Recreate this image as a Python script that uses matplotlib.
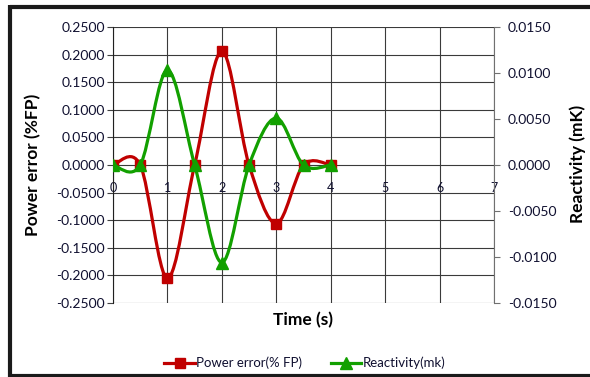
import matplotlib
matplotlib.use("Agg")
import matplotlib.pyplot as plt
from matplotlib.path import Path
from matplotlib.patches import PathPatch
from matplotlib.lines import Line2D
from matplotlib.ticker import FormatStrFormatter, MultipleLocator

plt.rcParams['font.family'] = ['Lato', 'DejaVu Sans']

# Data
time_s = [0, 0.5, 1, 1.5, 2, 2.5, 3, 3.5, 4]
power_error = [0, 0, -0.205, 0, 0.206, 0, -0.106, 0, 0]   # % FP
reactivity = [0, 0, 0.0103, 0, -0.0106, 0, 0.0051, 0, 0]  # mk
x_ticks = [0, 1, 2, 3, 4, 5, 6, 7]

RED = '#C00000'
GREEN = '#12A000'


def smooth_path(xs, ys):
    """Cubic Bezier path through the points (spreadsheet-style smoothed line)."""
    n = len(xs)
    verts = [(xs[0], ys[0])]
    codes = [Path.MOVETO]
    for i in range(n - 1):
        x0, y0 = xs[max(i - 1, 0)], ys[max(i - 1, 0)]
        x1, y1 = xs[i], ys[i]
        x2, y2 = xs[i + 1], ys[i + 1]
        x3, y3 = xs[min(i + 2, n - 1)], ys[min(i + 2, n - 1)]
        c1 = (x1 + (x2 - x0) / 6.0, y1 + (y2 - y0) / 6.0)
        c2 = (x2 - (x3 - x1) / 6.0, y2 - (y3 - y1) / 6.0)
        verts += [c1, c2, (x2, y2)]
        codes += [Path.CURVE4] * 3
    return Path(verts, codes)


fig = plt.figure(figsize=(5.9, 3.77), dpi=100)
ax = fig.add_axes([113 / 590, 1 - 303 / 377, (494 - 113) / 590, (303 - 27) / 377])
ax2 = ax.twinx()

# Left axis
ax.set_xlim(0, 7)
ax.set_ylim(-0.25, 0.25)
ax.yaxis.set_major_locator(MultipleLocator(0.05))
ax.yaxis.set_major_formatter(FormatStrFormatter('%.4f'))
ax.set_xticks(x_ticks)
ax.set_xticklabels([str(t) for t in x_ticks])
ax.grid(True, color='#3a3a3a', lw=0.8)
ax.set_axisbelow(True)
for s in ['top', 'right']:
    ax.spines[s].set_visible(False)
ax.spines['left'].set_color('#202020')
ax.spines['bottom'].set_position(('data', 0))
ax.spines['bottom'].set_visible(False)
ax.tick_params(axis='x', length=0, pad=12, labelsize=9, labelcolor='#101030')
ax.tick_params(axis='y', length=4, width=0.8, color='#404040', pad=2,
               labelsize=10, labelcolor='#101030')

# Right axis
ax2.set_ylim(-0.015, 0.015)
ax2.yaxis.set_major_locator(MultipleLocator(0.005))
ax2.yaxis.set_major_formatter(FormatStrFormatter('%.4f'))
for s in ['top', 'left', 'bottom']:
    ax2.spines[s].set_visible(False)
ax2.spines['right'].set_color('#707070')
ax2.tick_params(axis='y', length=4, width=0.8, color='#707070', pad=6,
                labelsize=10, labelcolor='#101030')

# Smoothed curves
ax.add_patch(PathPatch(smooth_path(time_s, power_error), fill=False,
                       edgecolor=RED, lw=2.3, zorder=3))
ax2.add_patch(PathPatch(smooth_path(time_s, reactivity), fill=False,
                        edgecolor=GREEN, lw=2.3, zorder=3))
ax.plot(time_s, power_error, ls='none', marker='s', ms=7, color=RED, zorder=4)
ax2.plot(time_s, reactivity, ls='none', marker='^', ms=8, color=GREEN, zorder=4)

# Axis titles
fig.text(33 / 590, 1 - 165 / 377, 'Power error (%FP)', rotation=90,
         ha='center', va='center', fontsize=12.5, fontweight='bold')
fig.text(578 / 590, 1 - 164 / 377, 'Reactivity (mK)', rotation=90,
         ha='center', va='center', fontsize=12.5, fontweight='bold')
fig.text(303 / 590, 1 - 320 / 377, 'Time (s)', ha='center', va='center',
         fontsize=12.5, fontweight='bold')

# Legend
handles = [
    Line2D([], [], color=RED, lw=2.3, marker='s', ms=7),
    Line2D([], [], color=GREEN, lw=2.3, marker='^', ms=8),
]
fig.legend(handles, ['Power error(% FP)', 'Reactivity(mk)'],
           loc='center', bbox_to_anchor=(305 / 590, 1 - 363 / 377), ncol=2,
           frameon=False, fontsize=9.5, handlelength=2.3, handletextpad=0.1,
           columnspacing=2.2, labelcolor='#101030')

# Outer frame (top, left, bottom)
frame_kw = dict(color='#1a1a1a', lw=3, transform=fig.transFigure,
                solid_capstyle='butt')
fig.add_artist(Line2D([10 / 590, 1.0], [1 - 7 / 377, 1 - 7 / 377], **frame_kw))
fig.add_artist(Line2D([10 / 590, 10 / 590], [1 - 5 / 377, 1 - 377 / 377], **frame_kw))
fig.add_artist(Line2D([10 / 590, 1.0], [1 - 375.5 / 377, 1 - 375.5 / 377], **frame_kw))

fig.savefig('out.png', dpi=100)
